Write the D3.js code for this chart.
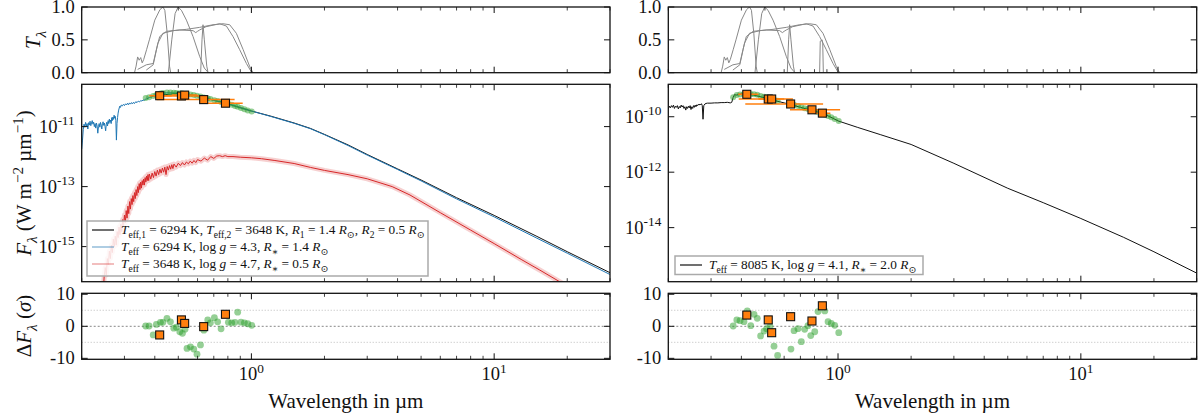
<!DOCTYPE html>
<html>
<head>
<meta charset="utf-8">
<script src="https://cdn.jsdelivr.net/npm/d3@7"></script>
<style>
  body { margin: 0; background: #fff; }
  text { font-family: "Liberation Serif", "DejaVu Serif", serif; fill: #111; }
</style>
</head>
<body>
<script>
// ---------- data (log10 of flux in W m^-2 um^-1, wavelengths in um) ----------

// left: binary fit, star 1 (blue)
var wlStar1 = [0.200,0.2015,0.203,0.2045,0.206,0.2075,0.209,0.2105,0.212,0.2135,0.215,0.2165,0.218,0.2195,0.221,0.2225,0.224,0.2255,0.227,0.2285,0.230,0.2315,0.233,0.2345,0.236,0.2375,0.239,0.2405,0.242,0.2435,0.245,0.2465,0.248,0.2495,0.251,0.2525,0.254,0.2555,0.257,0.2585,0.260,0.2615,0.263,0.2645,0.266,0.2675,0.269,0.2705,0.272,0.2735,0.275,0.2765,0.278,0.2795,0.281,0.2825,0.284,0.2855,0.287,0.289,0.291,
  0.294,0.297,0.300,0.303,0.306,0.309,0.312,0.315,0.318,0.321,0.324,0.327,0.330,0.334,0.338,0.342,0.346,0.350,0.354,0.358,0.362,0.366,0.370,0.380,0.390,0.400,0.420,0.440,0.460,0.480,0.500,0.550,0.600,0.650,0.700,0.750,0.800,0.900,1.0,1.2,1.5,1.75,2.0,2.5,3.0,4.0,5.0,7.0,10,15,20,30];
var fluxStar1 = [-11.75,-11.45,-11.1,-10.92,-11.02,-10.86,-10.98,-10.9,-11.08,-10.87,-10.95,-10.82,-10.97,-10.88,-10.8,-10.92,-10.85,-11.0,-10.9,-11.05,-10.88,-10.98,-11.22,-11.0,-10.9,-11.02,-10.86,-10.95,-11.08,-10.9,-10.84,-10.96,-10.88,-11.0,-11.14,-10.92,-10.85,-10.98,-10.8,-10.9,-10.75,-10.86,-10.78,-10.9,-10.7,-10.8,-10.68,-10.76,-10.62,-10.72,-10.66,-10.8,-11.45,-10.9,-10.7,-10.55,-10.45,-10.38,-10.32,-10.36,-10.28,
  -10.31,-10.26,-10.3,-10.24,-10.28,-10.22,-10.27,-10.21,-10.25,-10.2,-10.24,-10.19,-10.23,-10.17,-10.2,-10.15,-10.18,-10.13,-10.15,-10.11,-10.13,-10.08,-10.08,-10.03,-10.0,-9.97,-9.91,-9.88,-9.87,-9.88,-9.89,-9.92,-9.98,-10.05,-10.12,-10.18,-10.24,-10.37,-10.48,-10.66,-10.89,-11.07,-11.27,-11.63,-11.95,-12.43,-12.81,-13.41,-14.01,-14.72,-15.22,-15.93];

// left: binary fit, star 2 (red)
var wlStar2 = [0.245,0.2475,0.25,0.2525,0.255,0.2575,0.26,0.2625,0.265,0.2675,0.27,0.2725,0.275,0.2775,0.28,0.2825,0.285,0.2875,0.29,0.2925,0.295,0.2975,0.30,0.3025,0.305,0.3075,0.31,0.3125,0.315,0.3175,0.32,0.3225,0.325,0.3275,0.33,0.3325,0.335,0.3375,0.34,0.3425,0.345,0.3475,0.35,0.3525,0.355,0.3575,0.36,0.3625,0.365,0.3675,0.37,0.3725,0.375,0.3775,0.38,0.385,0.39,0.395,0.40,0.405,0.41,0.415,0.42,0.425,0.43,0.435,0.44,0.445,0.45,0.455,0.46,0.465,0.47,0.475,0.48,0.49,0.50,0.51,0.52,0.53,0.54,0.55,0.56,0.57,0.58,0.59,0.60,0.62,0.64,0.66,0.68,0.70,0.72,0.74,0.76,0.78,0.80,0.84,0.90,1.0,1.1,1.25,1.5,1.75,2.0,2.5,3.0,3.8,4.5,6,8,10,13,15.4,18.6,22];
var fluxStar2 = [-16.6,-16.0,-15.7,-15.95,-15.4,-15.6,-15.15,-15.4,-14.95,-15.2,-14.75,-15.0,-14.65,-14.95,-14.5,-14.7,-14.35,-14.6,-14.25,-14.5,-14.1,-14.3,-13.95,-14.2,-13.8,-14.05,-13.65,-13.9,-13.5,-13.75,-13.4,-13.6,-13.3,-13.5,-13.2,-13.4,-13.1,-13.3,-13.0,-13.2,-12.9,-13.1,-12.85,-13.05,-12.8,-12.95,-12.75,-12.95,-12.7,-12.85,-12.65,-12.8,-12.6,-12.8,-12.58,-12.75,-12.55,-12.7,-12.5,-12.65,-12.45,-12.6,-12.42,-12.55,-12.38,-12.52,-12.35,-12.6,-12.33,-12.45,-12.3,-12.42,-12.27,-12.4,-12.25,-12.35,-12.22,-12.3,-12.2,-12.28,-12.18,-12.24,-12.15,-12.22,-12.13,-12.2,-12.1,-12.15,-12.05,-12.12,-12.0,-12.06,-11.98,-11.97,-12.0,-11.97,-12.0,-12.0,-12.02,-12.04,-12.07,-12.13,-12.23,-12.36,-12.46,-12.6,-12.74,-13.0,-13.28,-13.87,-14.45,-14.9,-15.44,-15.78,-16.17,-16.5];

// left: combined model (black)
var wlBinary = [0.4,0.5,0.6,0.7,0.8,0.9,1.0,1.2,1.5,1.75,2.0,2.5,3.0,4.0,5.0,7.0,10,15,20,30];
var fluxBinary = [-9.97,-9.89,-9.98,-10.12,-10.24,-10.37,-10.48,-10.65,-10.88,-11.06,-11.26,-11.61,-11.93,-12.41,-12.78,-13.37,-13.96,-14.66,-15.17,-15.87];

// right: single star fit (black)
var wlSingle = [0.200,0.202,0.204,0.206,0.208,0.210,0.212,0.214,0.216,0.218,0.220,0.222,0.224,0.226,0.228,0.230,0.232,0.234,0.236,0.238,0.240,0.242,0.244,0.246,0.248,0.250,0.252,0.254,0.256,0.258,0.260,0.262,0.264,0.266,0.268,0.270,0.272,0.274,0.276,0.278,0.280,0.283,0.286,0.29,0.30,0.31,0.32,0.33,0.34,0.35,0.36,0.365,0.37,0.375,0.38,0.39,0.40,0.42,0.45,0.50,0.55,0.60,0.65,0.70,0.75,0.80,0.85,0.90,0.95,1.0,1.2,1.5,2.0,3.0,5.0,7.0,10,15,20,30];
var fluxSingle = [-9.72,-9.62,-9.68,-9.6,-9.66,-9.58,-9.7,-9.62,-9.66,-9.6,-9.72,-9.63,-9.68,-9.58,-9.65,-9.6,-9.7,-9.64,-9.76,-9.64,-9.7,-9.62,-9.68,-9.6,-9.74,-9.64,-9.7,-9.6,-9.66,-9.58,-9.64,-9.57,-9.6,-9.55,-9.58,-9.54,-9.57,-9.53,-9.6,-10.09,-9.6,-9.54,-9.52,-9.51,-9.51,-9.5,-9.5,-9.49,-9.49,-9.48,-9.5,-9.48,-9.3,-9.2,-9.22,-9.2,-9.18,-9.17,-9.22,-9.32,-9.42,-9.5,-9.58,-9.66,-9.73,-9.8,-9.87,-9.95,-10.05,-10.15,-10.38,-10.65,-11.0,-11.68,-12.58,-13.1,-13.67,-14.35,-14.87,-15.64];

// observed spectrum points (green) and residuals in sigma
var wlObsL = [0.367,0.379,0.394,0.406,0.422,0.432,0.449,0.464,0.479,0.491,0.507,0.520,0.533,0.543,0.561,0.579,0.597,0.617,0.637,0.661,0.678,0.704,0.726,0.750,0.804,0.830,0.856,0.878,0.906,0.936,0.966,1.003];
var fluxObsL = [-10.05,-10.02,-9.98,-9.95,-9.90,-9.88,-9.86,-9.86,-9.87,-9.88,-9.89,-9.90,-9.91,-9.92,-9.93,-9.95,-9.97,-10.0,-10.03,-10.06,-10.08,-10.12,-10.15,-10.18,-10.24,-10.27,-10.31,-10.34,-10.38,-10.42,-10.46,-10.5];
var residObsL = [0.1,0.1,-2.7,0.6,1.25,1.25,2.5,1.4,-0.6,-0.3,-1.7,-2.2,-0.9,-6.9,-6.4,-7.1,-8.7,-5.8,-1.2,2.0,1.1,2.7,1.4,-0.8,1.25,1.1,1.25,4.4,1.3,1.1,0.8,0.3];

var wlObsR = [0.370,0.383,0.395,0.410,0.423,0.437,0.451,0.465,0.480,0.496,0.508,0.525,0.545,0.564,0.640,0.659,0.684,0.706,0.729,0.752,0.772,0.802,0.827,0.882,0.910,0.938,0.969,1.007];
var fluxObsR = [-9.3,-9.22,-9.2,-9.18,-9.16,-9.18,-9.19,-9.21,-9.25,-9.28,-9.3,-9.34,-9.38,-9.42,-9.54,-9.57,-9.61,-9.65,-9.69,-9.72,-9.75,-9.8,-9.84,-9.92,-9.97,-10.02,-10.08,-10.15];
var residObsR = [0.1,2.0,1.75,1.45,4.8,0.2,3.75,2.5,-3.0,-1.5,-0.75,-0.1,-6.2,-9.1,-7.1,-1.35,-0.75,-4.8,-0.95,0.2,-2.9,-1.7,4.6,4.8,1.45,0.9,0.3,-2.0];

// photometry (orange): pivot wavelength, band edges, flux, residual
var wlPhotL = [0.419,0.515,0.531,0.636,0.782];
var bandLoL = [0.38,0.40,0.47,0.407,0.613];
var bandHiL = [0.47,0.65,0.60,0.853,0.921];
var fluxPhotL = [-9.97,-9.98,-9.95,-10.1,-10.22];
var residPhotL = [-2.7,2.0,0.9,-0.1,3.75];

var wlPhotR = [0.421,0.516,0.533,0.638,0.781,0.862];
var bandLoR = [0.388,0.39,0.47,0.415,0.634,0.80];
var bandHiR = [0.47,0.652,0.60,0.868,1.02,0.93];
var fluxPhotR = [-9.19,-9.36,-9.36,-9.54,-9.75,-9.87];
var residPhotR = [3.5,2.0,-2.0,3.0,1.65,6.4];

// filter transmission curves
var filterB = {wl:[0.33,0.335,0.34,0.345,0.35,0.355,0.36,0.37,0.38,0.40,0.42,0.432,0.44,0.45,0.46,0.465], t:[0,0.1,0.24,0.19,0.23,0.15,0.2,0.35,0.5,0.8,0.96,1.0,0.95,0.6,0.1,0]};
var filterV = {wl:[0.455,0.47,0.485,0.499,0.515,0.54,0.575,0.612,0.64,0.665], t:[0,0.5,0.9,1.0,0.95,0.8,0.55,0.25,0.07,0]};
var filterN1 = {wl:[0.618,0.626,0.632,0.64,0.655,0.663], t:[0,0.5,0.73,0.5,0.1,0]};
var filterN2 = {wl:[0.840,0.845,0.86,0.865,0.87], t:[0,0.48,0.5,0.45,0]};
var filterG1 = {wl:[0.34,0.369,0.394,0.406,0.419,0.447,0.507,0.575,0.59,0.6,0.612,0.65,0.74,0.789,0.84,0.895,0.954,1.0,1.03], t:[0.05,0.12,0.14,0.35,0.55,0.63,0.65,0.64,0.61,0.63,0.65,0.7,0.745,0.71,0.55,0.35,0.14,0.01,0]};
var filterG2 = {wl:[0.369,0.394,0.412,0.432,0.476,0.54,0.612,0.695,0.764,0.814,0.867,0.925,0.985,1.015], t:[0.04,0.12,0.45,0.6,0.64,0.66,0.69,0.73,0.745,0.73,0.6,0.35,0.09,0]};

var filtersL = [filterB, filterV, filterN1, filterG1, filterG2];
var filtersR = [filterB, filterV, filterN1, filterN2, filterG1, filterG2];

// axes
var xDomain = [0.2, 30];
var xMajor = [1, 10];
var xMinor = [0.2,0.3,0.4,0.5,0.6,0.7,0.8,0.9,2,3,4,5,6,7,8,9,20,30];
var transTicks = [0, 0.5, 1.0];
var residTicks = [-10, 0, 10];
var fluxTicksL = [-15, -13, -11];
var fluxTicksR = [-14, -12, -10];

// ---------- layout ----------
var W = 1200, H = 415;
var rows = {trans: [72.7, 7], flux: [281.7, 84.3], resid: [359.3, 293.3]};
var cols = {left: [81.7, 610], right: [668.3, 1196.7]};
var fs = 18.5;

var svg = d3.select('body').append('svg')
  .attr('width', W).attr('height', H);

var C0 = '#1f77b4', C1 = '#ff7f0e', C2 = '#2ca02c', C3 = '#d62728';

// tspans for sub/superscripts and italics: parts = [[text, flags]]
function rich(t, parts, size) {
  var shift = 0;
  parts.forEach(function(p) {
    var f = p[1] || '';
    var sh = 0, s = size;
    if (f.indexOf('_') >= 0) { sh = size * 0.3; s = size * 0.72; }
    if (f.indexOf('^') >= 0) { sh = -size * 0.4; s = size * 0.72; }
    var ts = t.append('tspan').text(p[0]).attr('font-size', s).attr('dy', sh - shift);
    if (f.indexOf('i') >= 0) ts.attr('font-style', 'italic');
    shift = sh;
  });
}

function sciLabel(sel, e, size) {
  sel.text(null);
  rich(sel, [['10'], [String(e), '^']], size);
}

var clipId = 0;
function panel(col, row) {
  var x0 = cols[col][0], x1 = cols[col][1];
  var y0 = rows[row][1], y1 = rows[row][0];
  var id = 'clip' + (clipId++);
  svg.append('clipPath').attr('id', id).append('rect')
    .attr('x', x0).attr('y', y0).attr('width', x1 - x0).attr('height', y1 - y0);
  var g = svg.append('g');
  var plot = g.append('g').attr('clip-path', 'url(#' + id + ')');
  return {g: g, plot: plot, x0: x0, x1: x1, y0: y0, y1: y1};
}

function frame(p, x, y, yTicks, yLabels, xLabels) {
  var g = p.g;
  // x ticks bottom and top, inward
  [[p.y1, -1], [p.y0, 1]].forEach(function(side) {
    xMajor.forEach(function(v) {
      g.append('line').attr('x1', x(v)).attr('x2', x(v))
        .attr('y1', side[0]).attr('y2', side[0] + side[1] * 6)
        .attr('stroke', '#111').attr('stroke-width', 1);
    });
    xMinor.forEach(function(v) {
      g.append('line').attr('x1', x(v)).attr('x2', x(v))
        .attr('y1', side[0]).attr('y2', side[0] + side[1] * 3.5)
        .attr('stroke', '#111').attr('stroke-width', 0.8);
    });
  });
  // y ticks left and right, inward
  yTicks.forEach(function(v) {
    g.append('line').attr('x1', p.x0).attr('x2', p.x0 + 6).attr('y1', y(v)).attr('y2', y(v))
      .attr('stroke', '#111');
    g.append('line').attr('x1', p.x1).attr('x2', p.x1 - 6).attr('y1', y(v)).attr('y2', y(v))
      .attr('stroke', '#111');
  });
  g.append('rect').attr('x', p.x0).attr('y', p.y0)
    .attr('width', p.x1 - p.x0).attr('height', p.y1 - p.y0)
    .attr('fill', 'none').attr('stroke', '#111').attr('stroke-width', 1.3);

  if (yLabels) {
    yTicks.forEach(function(v) {
      var t = g.append('text').attr('x', p.x0 - 7).attr('y', y(v) + 6)
        .attr('text-anchor', 'end').attr('font-size', fs);
      yLabels(t, v);
    });
  }
  if (xLabels) {
    xMajor.forEach(function(v) {
      var t = g.append('text').attr('x', x(v)).attr('y', p.y1 + 21)
        .attr('text-anchor', 'middle').attr('font-size', fs);
      sciLabel(t, Math.round(Math.log10(v)), fs);
    });
  }
}

function pairs(wl, v) { return wl.map(function(w, i) { return [w, v[i]]; }); }

function drawSide(col, opt) {
  var x = d3.scaleLog().domain(xDomain).range(cols[col]);

  // transmission panel
  var pT = panel(col, 'trans');
  var yT = d3.scaleLinear().domain([0, 1]).range(rows.trans);
  var tLine = d3.line().x(function(d) { return x(d[0]); }).y(function(d) { return yT(d[1]); });
  opt.filters.forEach(function(f) {
    pT.plot.append('path').attr('d', tLine(pairs(f.wl, f.t)))
      .attr('fill', 'none').attr('stroke', '#888').attr('stroke-width', 1);
  });
  frame(pT, x, yT, transTicks, function(t, v) { t.text(d3.format('.1f')(v)); }, false);

  // flux panel
  var pF = panel(col, 'flux');
  var yF = d3.scaleLog().domain([Math.pow(10, opt.fluxExp[0]), Math.pow(10, opt.fluxExp[1])]).range(rows.flux);
  var fLine = d3.line().x(function(d) { return x(d[0]); }).y(function(d) { return yF(Math.pow(10, d[1])); });
  opt.models.forEach(function(m) {
    if (m.band) {
      pF.plot.append('path').attr('d', fLine(pairs(m.wl, m.flux)))
        .attr('fill', 'none').attr('stroke', m.band).attr('stroke-opacity', 0.22)
        .attr('stroke-width', 5).attr('stroke-linejoin', 'round');
    }
    pF.plot.append('path').attr('d', fLine(pairs(m.wl, m.flux)))
      .attr('fill', 'none').attr('stroke', m.color).attr('stroke-width', 1)
      .attr('stroke-linejoin', 'round');
  });
  pF.plot.selectAll('circle.obs').data(pairs(opt.obsWl, opt.obsFlux)).enter()
    .append('circle').attr('class', 'obs')
    .attr('cx', function(d) { return x(d[0]); })
    .attr('cy', function(d) { return yF(Math.pow(10, d[1])); })
    .attr('r', 3).attr('fill', C2).attr('fill-opacity', 0.5);
  var phot = opt.photWl.map(function(w, i) {
    return {wl: w, lo: opt.bandLo[i], hi: opt.bandHi[i], f: opt.photFlux[i], r: opt.photResid[i]};
  });
  pF.plot.selectAll('line.err').data(phot).enter().append('line').attr('class', 'err')
    .attr('x1', function(d) { return x(d.lo); }).attr('x2', function(d) { return x(d.hi); })
    .attr('y1', function(d) { return yF(Math.pow(10, d.f)); })
    .attr('y2', function(d) { return yF(Math.pow(10, d.f)); })
    .attr('stroke', C1).attr('stroke-width', 1.5);
  pF.plot.selectAll('rect.ph').data(phot).enter().append('rect').attr('class', 'ph')
    .attr('x', function(d) { return x(d.wl) - 4; })
    .attr('y', function(d) { return yF(Math.pow(10, d.f)) - 4; })
    .attr('width', 8).attr('height', 8)
    .attr('fill', C1).attr('stroke', '#111').attr('stroke-width', 1.1);
  frame(pF, x, function(v) { return yF(Math.pow(10, v)); }, opt.fluxTicks,
    function(t, v) { sciLabel(t, v, fs); }, false);

  // legend
  var L = opt.legend;
  var lg = pF.g.append('g');
  lg.append('rect').attr('x', L.x).attr('y', L.y).attr('width', L.w).attr('height', L.h)
    .attr('fill', '#fff').attr('fill-opacity', 0.85)
    .attr('stroke', '#aaa').attr('stroke-width', 1.5);
  L.rows.forEach(function(r, i) {
    var by = L.y + 13 + i * 17;
    lg.append('line').attr('x1', L.x + 5).attr('x2', L.x + 27)
      .attr('y1', by - 4).attr('y2', by - 4)
      .attr('stroke', r.color).attr('stroke-opacity', r.alpha).attr('stroke-width', 1.2);
    var t = lg.append('text').attr('x', L.x + 34).attr('y', by).attr('font-size', 13.3);
    rich(t, r.parts, 13.3);
  });

  // residual panel
  var pR = panel(col, 'resid');
  var yR = d3.scaleLinear().domain([-10.3, 10.3]).range(rows.resid);
  [[5, '#bbb', '1,2'], [0, '#888', '2,2'], [-5, '#bbb', '1,2']].forEach(function(h) {
    pR.plot.append('line').attr('x1', pR.x0).attr('x2', pR.x1)
      .attr('y1', yR(h[0])).attr('y2', yR(h[0]))
      .attr('stroke', h[1]).attr('stroke-dasharray', h[2]).attr('stroke-width', 1);
  });
  pR.plot.selectAll('circle.res').data(pairs(opt.obsWl, opt.obsResid)).enter()
    .append('circle').attr('class', 'res')
    .attr('cx', function(d) { return x(d[0]); })
    .attr('cy', function(d) { return yR(d[1]); })
    .attr('r', 3.4).attr('fill', C2).attr('fill-opacity', 0.5);
  pR.plot.selectAll('rect.ph').data(phot).enter().append('rect').attr('class', 'ph')
    .attr('x', function(d) { return x(d.wl) - 4; })
    .attr('y', function(d) { return yR(d.r) - 4; })
    .attr('width', 8).attr('height', 8)
    .attr('fill', C1).attr('stroke', '#111').attr('stroke-width', 1.1);
  frame(pR, x, yR, residTicks, function(t, v) { t.text(v); }, true);

  // x label
  svg.append('text').attr('x', (cols[col][0] + cols[col][1]) / 2).attr('y', 408)
    .attr('text-anchor', 'middle').attr('font-size', 21).text('Wavelength in µm');
}

var legendBinary = [
  {color: '#111', alpha: 1, parts: [['T','i'],['eff,1','_'],[' = 6294 K, '],['T','i'],['eff,2','_'],[' = 3648 K, '],['R','i'],['1','_'],[' = 1.4 '],['R','i'],['⊙','_'],[', '],['R','i'],['2','_'],[' = 0.5 '],['R','i'],['⊙','_']]},
  {color: C0, alpha: 0.6, parts: [['T','i'],['eff','_'],[' = 6294 K, log '],['g','i'],[' = 4.3, '],['R','i'],['∗','_'],[' = 1.4 '],['R','i'],['⊙','_']]},
  {color: C3, alpha: 0.5, parts: [['T','i'],['eff','_'],[' = 3648 K, log '],['g','i'],[' = 4.7, '],['R','i'],['∗','_'],[' = 0.5 '],['R','i'],['⊙','_']]}
];
var legendSingle = [
  {color: '#111', alpha: 1, parts: [['T','i'],['eff','_'],[' = 8085 K, log '],['g','i'],[' = 4.1, '],['R','i'],['∗','_'],[' = 2.0 '],['R','i'],['⊙','_']]}
];

drawSide('left', {
  filters: filtersL,
  fluxExp: [-16.17, -9.59],
  fluxTicks: fluxTicksL,
  models: [
    {wl: wlStar2, flux: fluxStar2, color: C3, band: C3},
    {wl: wlBinary, flux: fluxBinary, color: '#111'},
    {wl: wlStar1, flux: fluxStar1, color: C0}
  ],
  obsWl: wlObsL, obsFlux: fluxObsL, obsResid: residObsL,
  photWl: wlPhotL, bandLo: bandLoL, bandHi: bandHiL, photFlux: fluxPhotL, photResid: residPhotL,
  legend: {x: 87, y: 221, w: 341, h: 55, rows: legendBinary}
});

drawSide('right', {
  filters: filtersR,
  fluxExp: [-15.95, -8.83],
  fluxTicks: fluxTicksR,
  models: [
    {wl: wlSingle, flux: fluxSingle, color: '#111'}
  ],
  obsWl: wlObsR, obsFlux: fluxObsR, obsResid: residObsR,
  photWl: wlPhotR, bandLo: bandLoR, bandHi: bandHiR, photFlux: fluxPhotR, photResid: residPhotR,
  legend: {x: 675, y: 256, w: 248, h: 18.5, rows: legendSingle}
});

// y axis titles (left side only)
function yTitle(cx, cy, parts, size) {
  var t = svg.append('text').attr('transform', 'translate(' + cx + ',' + cy + ') rotate(-90)')
    .attr('text-anchor', 'middle').attr('font-size', size);
  rich(t, parts, size);
}
yTitle(40, 40, [['T','i'],['λ','_i']], 21);
yTitle(31, 183, [['F','i'],['λ','_i'],[' (W m'],['−2','^'],[' µm'],['−1','^'],[')']], 21);
yTitle(31, 326, [['Δ'],['F','i'],['λ','_i'],[' ('],['σ','i'],[')']], 21);
</script>
</body>
</html>
